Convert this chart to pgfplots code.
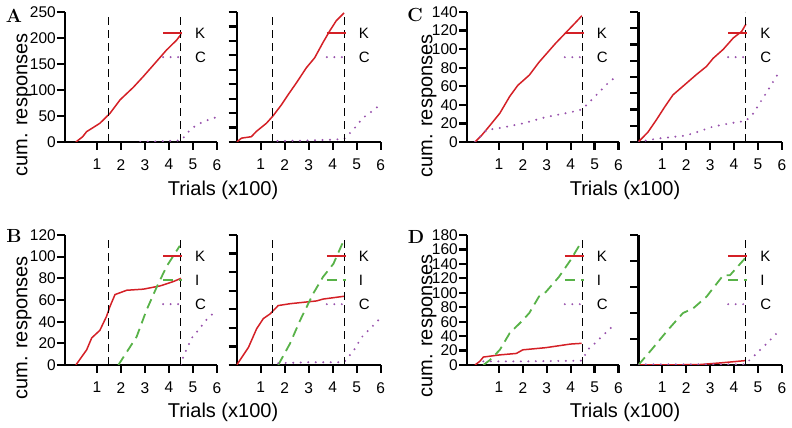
\documentclass[border=0pt]{standalone}
\usepackage{fontspec}
\setsansfont{Liberation Sans}
\usepackage{pgfplots}
\pgfplotsset{compat=1.18}
\definecolor{kred}{RGB}{212,32,38}
\definecolor{igreen}{RGB}{88,178,72}
\definecolor{cpurple}{RGB}{152,82,172}
\newcommand\tickfont{\sffamily\fontsize{15.5}{17}\selectfont}
\newcommand\legfont{\sffamily\fontsize{15}{17}\selectfont}
\newcommand\labfont{\sffamily\fontsize{20}{23}\selectfont}
\newcommand\letfont{\rmfamily\bfseries\fontsize{19}{21}\selectfont}
\pgfplotsset{
  panel/.style={
    scale only axis, height=130pt, ymin=0, xmax=6,
    axis lines*=left,
    x axis line style={line width=2.4pt}, y axis line style={line width=2.4pt},
    every tick/.style={black, line width=2.2pt}, major tick length=8pt, tick align=outside,
    xtick={1,...,6},
    /pgf/number format/assume math mode=true,
    tick label style={font=\tickfont},
    yticklabel style={inner xsep=1pt},
    xticklabel style={inner ysep=2pt, yshift=-7pt},
    legend image code/.code={\draw[##1] (0pt,0pt) -- (19pt,0pt);},
    legend style={draw=none, fill=none, inner sep=0pt, anchor=north west, yshift=-9pt,
      font=\legfont,
      nodes={inner xsep=0pt, inner ysep=0pt, text height=11pt, text depth=0pt, minimum height=24pt},
      row sep=0pt, /tikz/every odd column/.append style={column sep=12pt}},
    legend cell align=left,
  },
  leftp/.style={panel, width=152pt, xmin=-0.333, legend style={at={(rel axis cs:0.637,1)}}},
  rightp/.style={panel, width=144pt, xmin=0, yticklabels={}, legend style={at={(rel axis cs:0.617,1)}}},
  K/.style={kred, line width=1.5pt},
  I/.style={igreen, line width=1.8pt, dash pattern=on 10pt off 6pt},
  C/.style={cpurple, line width=2.2pt, line cap=round, dash pattern=on 0pt off 7.5pt},
  vl/.style={black, line width=1pt, dash pattern=on 8pt off 5pt, forget plot},
}
\begin{document}
\begin{tikzpicture}
\useasboundingbox (0,0) rectangle (792pt,428pt);
% ---- A ----
\begin{axis}[leftp, at={(65pt,286pt)}, anchor=south west, ymax=250, ytick={0,50,...,250}]
\addplot[K] coordinates {(0.12,0)(0.4,10)(0.57,20)(0.78,26)(1.12,36)(1.54,55)(1.96,81)(2.51,105)(2.93,126)(3.35,148)(3.9,177)(4.32,196)(4.5,207)};
\addlegendentry{K}
\addplot[C] coordinates {(2.8,0)(3.5,1)(4.5,3)(4.6,8)(4.75,17)(5.0,28)(5.3,36)(5.6,42)(6.0,48)};
\addlegendentry{C}
\addplot[vl] coordinates {(1.5,0)(1.5,250)};
\addplot[vl] coordinates {(4.5,0)(4.5,250)};
\end{axis}
\begin{axis}[rightp, at={(236.7pt,286pt)}, anchor=south west, ymax=270, ytick={0,30,...,270}]
\addplot[K] coordinates {(0,0)(0.2,8)(0.61,11)(0.82,22)(1.24,39)(1.51,54)(1.86,77)(2.14,98)(2.49,123)(2.9,154)(3.25,175)(3.6,207)(3.88,231)(4.15,252)(4.47,268)};
\addlegendentry{K}
\addplot[C] coordinates {(1.7,2)(3,3)(4.47,6)(4.85,25)(5.26,50)(5.61,63)(5.95,76)};
\addlegendentry{C}
\addplot[vl] coordinates {(1.5,0)(1.5,270)};
\addplot[vl] coordinates {(4.5,0)(4.5,270)};
\end{axis}
% ---- C ----
\begin{axis}[leftp, width=151.5pt, at={(467pt,286pt)}, anchor=south west, ymax=140, ytick={0,20,...,140}]
\addplot[K] coordinates {(0,0)(0.29,7.5)(0.63,18)(1.04,31)(1.45,49)(1.79,61)(2.27,72)(2.68,86)(3.02,96)(3.36,106)(3.77,117)(4.18,128)(4.47,136)};
\addlegendentry{K}
\addplot[C] coordinates {(0,0)(0.49,13)(1.04,15)(2,20)(3,27)(4,32)(4.47,35)(4.86,45)(5.28,56)(5.62,65)(5.95,71)};
\addlegendentry{C}
\addplot[vl] coordinates {(4.5,0)(4.5,140)};
\end{axis}
\begin{axis}[rightp, width=143.5pt, at={(638.3pt,286pt)}, anchor=south west, ymax=160, ytick={0,20,...,160}]
\addplot[K] coordinates {(0,0)(0.4,12)(0.75,27)(1.1,43)(1.45,58)(2.0,72)(2.43,83)(2.85,93)(3.13,103)(3.55,114)(3.97,128)(4.32,136)(4.5,145)};
\addlegendentry{K}
\addplot[C] coordinates {(0,0)(0.75,4)(2.0,8)(2.43,12)(3.13,19)(3.83,23)(4.5,26)(4.8,35)(5.08,48)(5.43,64)(5.78,81)(5.95,88)};
\addlegendentry{C}
\addplot[vl] coordinates {(4.5,0)(4.5,160)};
\end{axis}
% ---- B ----
\begin{axis}[leftp, at={(65pt,63pt)}, anchor=south west, ymax=120, ytick={0,20,...,120}]
\addplot[K] coordinates {(0.12,0)(0.57,14)(0.78,25)(1.12,32)(1.4,45)(1.54,54)(1.75,65)(2.24,69)(2.93,70)(3.63,73)(4.18,77)(4.5,80)};
\addlegendentry{K}
\addplot[I] coordinates {(1.89,0)(2.65,26)(3.07,51)(3.49,72)(3.9,91)(4.45,110)};
\addlegendentry{I}
\addplot[C] coordinates {(4.5,0)(4.6,8)(4.95,25)(5.29,34)(5.57,42)(6.0,51)};
\addlegendentry{C}
\addplot[vl] coordinates {(1.5,0)(1.5,120)};
\addplot[vl] coordinates {(4.5,0)(4.5,120)};
\end{axis}
\begin{axis}[rightp, at={(236.7pt,63pt)}, anchor=south west, ymax=140, ytick={0,20,...,140}]
\addplot[K] coordinates {(0,0)(0.49,19)(0.83,39)(1.11,50)(1.39,55)(1.73,64)(2.22,66)(3.33,69)(3.6,71)(4.47,74)};
\addlegendentry{K}
\addplot[I] coordinates {(1.73,0)(2.22,23)(2.64,48)(3.19,77)(3.6,95)(4.03,109)(4.44,133)};
\addlegendentry{I}
\addplot[C] coordinates {(1.73,2)(3,3)(4.47,3)(4.86,15)(5.21,30)(5.63,41)(5.97,50)};
\addlegendentry{C}
\addplot[vl] coordinates {(1.5,0)(1.5,140)};
\addplot[vl] coordinates {(4.5,0)(4.5,140)};
\end{axis}
% ---- D ----
\begin{axis}[leftp, width=151.5pt, at={(467pt,63pt)}, anchor=south west, ymax=180, ytick={0,20,...,180}]
\addplot[K] coordinates {(0,0)(0.2,5)(0.35,11)(1.04,14)(1.73,16)(2.0,21)(2.96,24)(3.99,29)(4.46,30)};
\addlegendentry{K}
\addplot[I] coordinates {(0.35,0)(0.63,7)(1.04,21)(1.45,44)(2.0,62)(2.27,72)(2.68,95)(2.96,101)(3.51,122)(3.99,145)(4.46,171)};
\addlegendentry{I}
\addplot[C] coordinates {(0.35,5)(2,5)(4.46,6)(4.74,22)(5.08,32)(5.28,39)(5.9,58)};
\addlegendentry{C}
\addplot[vl] coordinates {(4.5,0)(4.5,180)};
\end{axis}
\begin{axis}[rightp, width=143.5pt, at={(638.3pt,63pt)}, anchor=south west, ymax=200, ytick={0,40,...,200}]
\addplot[K] coordinates {(0,0)(2.5,0.5)(2.85,1.5)(3.55,3.6)(4.46,6.7)};
\addlegendentry{K}
\addplot[I] coordinates {(0,0)(0.54,23)(1.24,54)(1.87,80)(2.29,87)(2.85,105)(3.55,138)(3.83,138)(4.46,164)};
\addlegendentry{I}
\addplot[C] coordinates {(0,1)(4.46,1)(4.81,13)(5.23,28)(5.58,41)(5.93,54)};
\addlegendentry{C}
\addplot[vl] coordinates {(4.5,0)(4.5,200)};
\end{axis}
% ---- labels ----
\node[font=\labfont] at (223pt,238pt) {Trials (x100)};
\node[font=\labfont] at (625pt,238pt) {Trials (x100)};
\node[font=\labfont] at (223pt,16pt) {Trials (x100)};
\node[font=\labfont] at (625pt,16pt) {Trials (x100)};
\node[font=\labfont, rotate=90] at (24pt,323pt) {cum. responses};
\node[font=\labfont, rotate=90] at (24pt,100pt) {cum. responses};
\node[font=\labfont, rotate=90] at (429pt,322pt) {cum. responses};
\node[font=\labfont, rotate=90] at (429pt,102pt) {cum. responses};
\node[font=\letfont] at (14pt,412pt) {A};
\node[font=\letfont] at (14pt,192pt) {B};
\node[font=\letfont] at (415pt,413pt) {C};
\node[font=\letfont] at (416pt,191pt) {D};
\end{tikzpicture}
\end{document}
